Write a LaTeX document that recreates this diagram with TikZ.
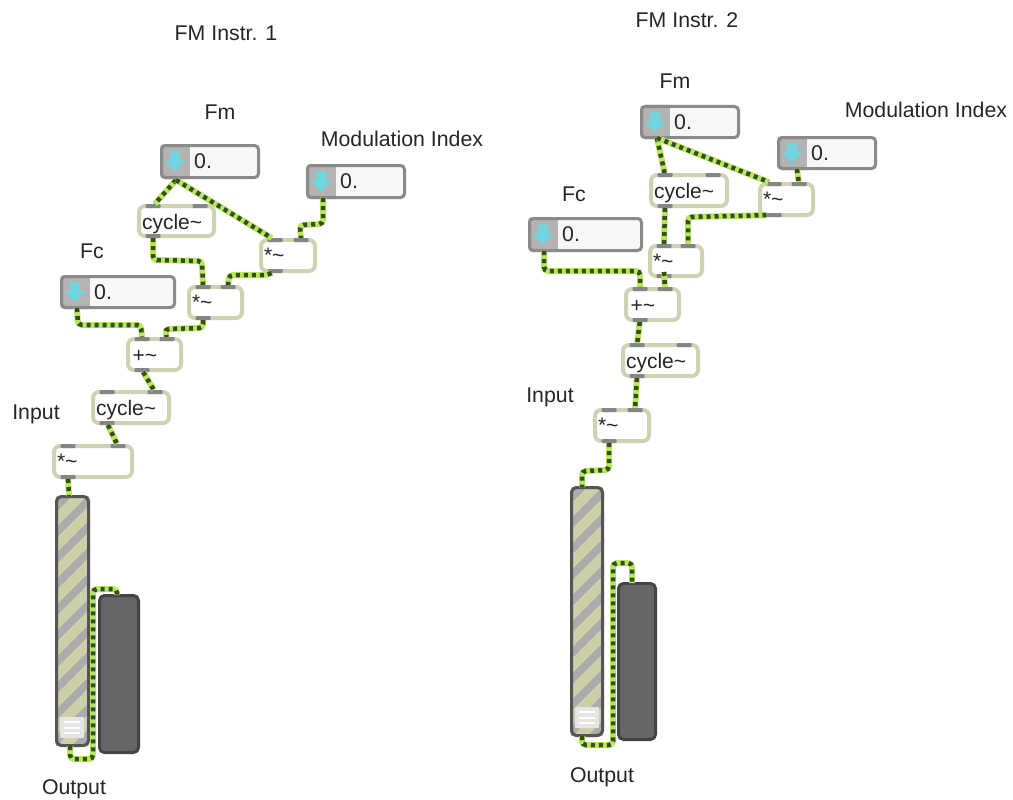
\documentclass[tikz,border=0pt]{standalone}
\usepackage{fontspec}
\setmainfont{Liberation Sans}
\definecolor{cordlime}{HTML}{B6E95E}
\definecolor{corddark}{HTML}{3B4A22}
\definecolor{objedge}{HTML}{CDD4B4}
\definecolor{portgray}{HTML}{858585}
\definecolor{numedge}{HTML}{8A8A8A}
\definecolor{numside}{HTML}{B3B3B3}
\definecolor{numfill}{HTML}{F7F7F7}
\definecolor{arrowcy}{HTML}{6FD6DF}
\definecolor{slidfill}{HTML}{CDCFA8}
\definecolor{slidband}{HTML}{ABABAB}
\definecolor{slidedge}{HTML}{555555}
\definecolor{metfill}{HTML}{666666}
\definecolor{metedge}{HTML}{444444}
\definecolor{inktext}{HTML}{262626}
\tikzset{
  lab/.style={font=\fontsize{21.3}{24}\selectfont,text=inktext,inner sep=0pt},
  portbar/.style={rectangle,fill=portgray,inner sep=0pt,outer sep=0pt,minimum width=15pt,minimum height=4pt,rounded corners=1pt},
  objbox/.style={rectangle,draw=objedge,fill=white,line width=4pt,rounded corners=6pt,anchor=north west,outer sep=0pt,inner ysep=0pt,inner xsep=3pt,align=left,font=\fontsize{21}{24}\selectfont,text=inktext},
  numbody/.style={rectangle,draw=numedge,line width=3pt,rounded corners=4pt,anchor=north west,outer sep=0pt,inner sep=0pt},
  slidbody/.style={rectangle,draw=slidedge,line width=3pt,rounded corners=5pt,anchor=north west,outer sep=0pt,inner sep=0pt},
  metbody/.style={rectangle,draw=metedge,fill=metfill,line width=3pt,rounded corners=5pt,anchor=north west,outer sep=0pt,inner sep=0pt},
  cord/.style={draw=cordlime,line width=6pt,rounded corners=4pt,
    postaction={draw=corddark,line width=4.5pt,dash pattern=on 4pt off 4pt}},
}
\newcommand{\lowtxt}[1]{\raisebox{-3pt}[15pt][5pt]{#1}}
% name, x, y, w, h, text
\newcommand{\maxobj}[6]{%
  \begin{scope}[shift={(#2,#3)}]
    \node[objbox,minimum width={(#4-4)*1pt},minimum height={(#5-4)*1pt},text width={(#4-10)*1pt}] (#1) at (2,2) {#6};
    \node[portbar] (#1i) at (16,2) {};
    \node[portbar] (#1j) at (#4-16,2) {};
    \node[portbar] (#1o) at (16,#5-2) {};
  \end{scope}}
% name, x, y, w, h
\newcommand{\maxnum}[5]{%
  \begin{scope}[shift={(#2,#3)}]
    \fill[numfill,rounded corners=4pt] (0,0) rectangle (#4,#5);
    \fill[numside,rounded corners=4pt] (0,0) rectangle (32,#5);
    \fill[numside] (20,0) rectangle (30,#5);
    \fill[numfill] (30,1) rectangle (33,#5-1);
    \fill[arrowcy] (10,#5/2-10) -- (20,#5/2-10) -- (20,#5/2-1) -- (25.5,#5/2-1) -- (15,#5/2+10) -- (4.5,#5/2-1) -- (10,#5/2-1) -- cycle;
    \node[numbody,minimum width={(#4-3)*1pt},minimum height={(#5-3)*1pt}] (#1) at (1.5,1.5) {};
    \node[lab,anchor=west] (#1t) at (34,#5/2) {0.};
  \end{scope}}
% name, x, y, w, h
\newcommand{\maxslid}[5]{%
  \begin{scope}[shift={(#2,#3)}]
    \begin{scope}
      \clip[rounded corners=5pt] (0,0) rectangle (#4,#5);
      \fill[slidfill] (0,0) rectangle (#4,#5);
      \foreach \yy in {-13,13,...,273} {
        \draw[slidband,line width=7.5pt] (-5,\yy+5) -- (45,\yy-45);
      }
    \end{scope}
    \fill[numfill!85!gray,rounded corners=1pt] (5,#5-30) rectangle (29,#5-9);
    \foreach \dy in {-25,-19,-14} {
      \draw[white,line width=1.5pt] (9,#5+\dy) -- (25,#5+\dy);
    }
    \node[slidbody,minimum width={(#4-3)*1pt},minimum height={(#5-3)*1pt}] (#1) at (1.5,1.5) {};
  \end{scope}}
% name, x, y, w, h
\newcommand{\maxmet}[5]{%
  \node[metbody,minimum width={(#4-3)*1pt},minimum height={(#5-3)*1pt}] (#1) at ({#2+1.5},{#3+1.5}) {};}
\begin{document}
\begin{tikzpicture}[x=1pt,y=-1pt]
\useasboundingbox (0,0) rectangle (1013,800);
\fill[white] (0,0) rectangle (1013,800);

% labels
\node[lab] (t1) at (226,33) {FM Instr. 1};
\node[lab] (t2) at (687,20) {FM Instr. 2};
\node[lab] (lfm1) at (220,112) {Fm};
\node[lab] (lmi1) at (402,139) {Modulation Index};
\node[lab] (lfc1) at (92,251) {Fc};
\node[lab] (lin1) at (36,414) {Input};
\node[lab] (lou1) at (74,789) {Output};
\node[lab] (lfm2) at (675,81) {Fm};
\node[lab] (lmi2) at (926,110) {Modulation Index};
\node[lab] (lfc2) at (574,194) {Fc};
\node[lab] (lin2) at (550,397) {Input};
\node[lab] (lou2) at (602,777) {Output};

% left patch
\maxnum{fma}{160}{144}{100}{35}
\maxnum{mia}{306}{164}{100}{35}
\maxnum{fca}{60}{275}{116}{34}
\maxobj{cya}{137}{204}{79}{34}{\lowtxt{cycle\char`\~}}
\maxobj{mua}{259}{238}{58}{35}{*\char`\~}
\maxobj{mub}{187}{285}{57}{35}{*\char`\~}
\maxobj{ada}{126}{337}{57}{35}{\lowtxt{\hspace{1.5pt}+\char`\~}}
\maxobj{cyb}{91}{390}{80}{35}{\lowtxt{cycle\char`\~}}
\maxobj{muc}{52}{444}{82}{35}{*\char`\~}
\maxslid{sla}{55}{495}{35}{252}
\maxmet{mea}{98}{594}{42}{160}

\coordinate (fmao) at (176,180);
\coordinate (miao) at (323,198);
\coordinate (fcao) at (77,308);
\coordinate (slai) at (69,496);
\coordinate (slao) at (70,746);
\coordinate (meai) at (117,595);

\draw[cord] (fmao) -- (cyai);
\draw[cord] (fmao) -- (muai);
\draw[cord] (miao) -- (323,224) -- (300,225) -- (muaj);
\draw[cord] (cyao) -- (153,260) -- (202,261) -- (mubi);
\draw[cord] (muao) -- (268,275) -- (229,275) -- (mubj);
\draw[cord] (fcao) -- (78,325) -- (141,325) -- (adai);
\draw[cord] (mubo) -- (203,328) -- (165,329) -- (adaj);
\draw[cord] (adao) -- (cybj);
\draw[cord] (cybo) -- (mucj);
\draw[cord] (muco) -- (slai);
\draw[cord] (slao) -- (70,759) -- (93,759) -- (93,589) -- (117,589) -- (meai);

% right patch
\maxnum{fmb}{640}{105}{100}{34}
\maxnum{mib}{777}{136}{100}{34}
\maxnum{fcb}{528}{217}{115}{35}
\maxobj{cyc}{649}{173}{80}{35}{\lowtxt{cycle\char`\~}}
\maxobj{mud}{758}{182}{57}{35}{*\char`\~}
\maxobj{mue}{648}{244}{56}{34}{*\char`\~}
\maxobj{adb}{624}{287}{57}{35}{\lowtxt{\hspace{1.5pt}+\char`\~}}
\maxobj{cyd}{621}{343}{79}{35}{\lowtxt{cycle\char`\~}}
\maxobj{muf}{593}{408}{58}{35}{*\char`\~}
\maxslid{slb}{570}{486}{34}{251}
\maxmet{meb}{617}{582}{40}{159}

\coordinate (fmbo) at (657,138);
\coordinate (mibo) at (797,169);
\coordinate (fcbo) at (544,251);
\coordinate (mues) at (664,272);
\coordinate (slbi) at (582,487);
\coordinate (slbo) at (582,736);
\coordinate (mebi) at (632,583);

\draw[cord] (fmbo) -- (cyci);
\draw[cord] (fmbo) -- (mudi);
\draw[cord] (mibo) -- (mudj);
\draw[cord] (cyco) -- (muei);
\draw[cord] (mudo) -- (688,217) -- (muej);
\draw[cord] (fcbo) -- (544,271) -- (640,271) -- (adbi);
\draw[cord] (mues) -- (adbj);
\draw[cord] (adbo) -- (cydi);
\draw[cord] (cydo) -- (mufj);
\draw[cord] (mufo) -- (609,470) -- (582,471) -- (slbi);
\draw[cord] (slbo) -- (582,745) -- (613,745) -- (613,563) -- (632,563) -- (mebi);
\end{tikzpicture}
\end{document}
